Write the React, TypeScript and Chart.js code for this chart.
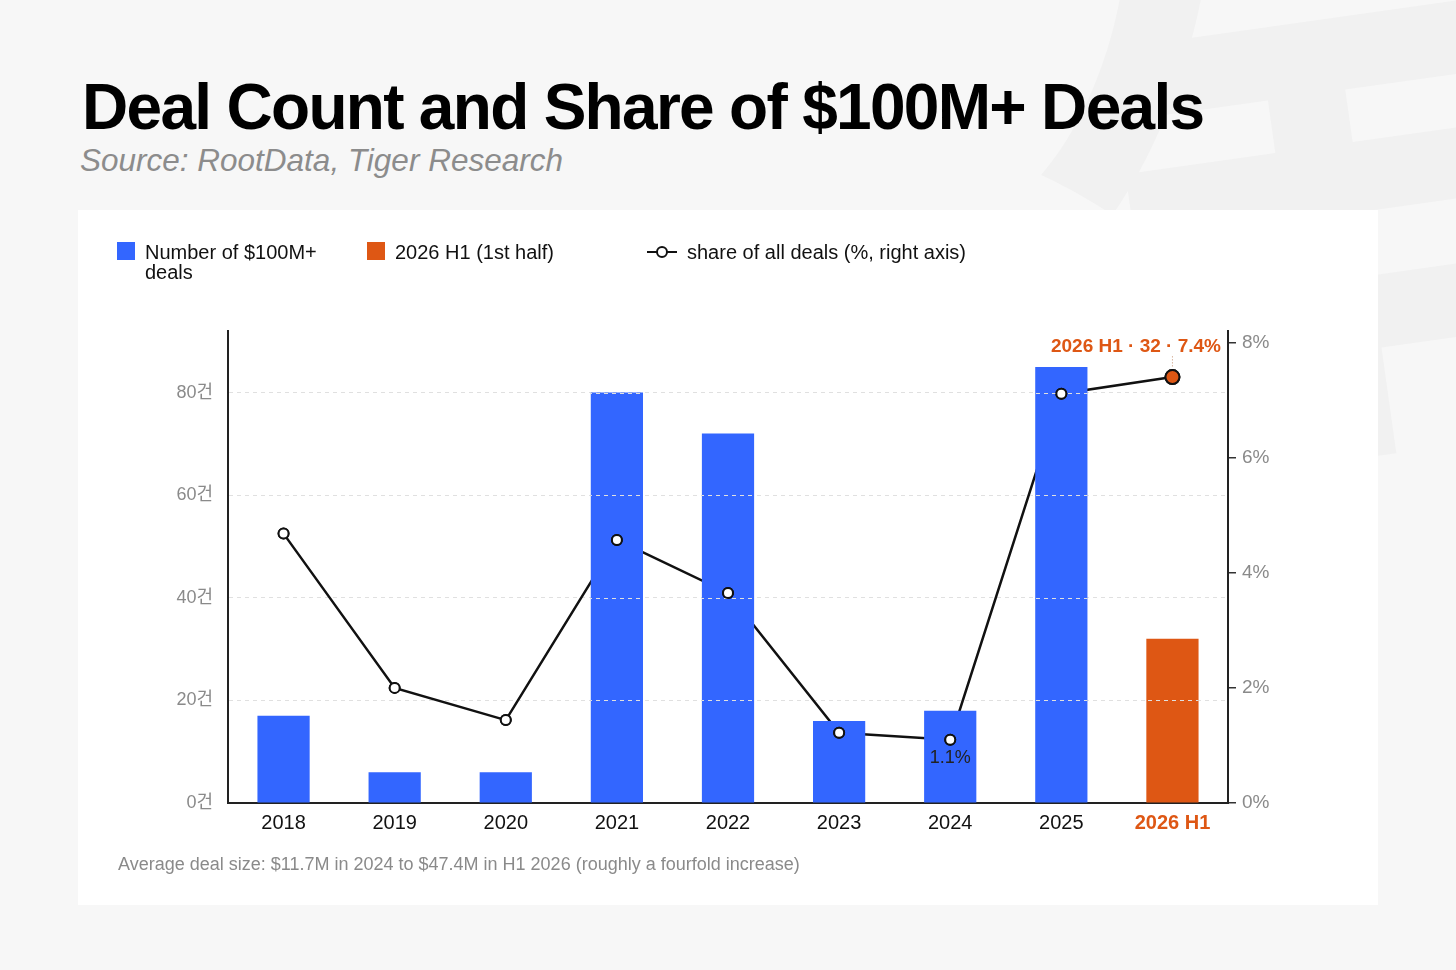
import React, { useEffect, useRef } from "react";
import { Chart, registerables } from "chart.js";

Chart.register(...registerables);

const categories = ["2018", "2019", "2020", "2021", "2022", "2023", "2024", "2025", "2026 H1"];
const dealCounts = [17, 6, 6, 80, 72, 16, 18, 85, 32];
const sharePct = [4.68, 2.0, 1.44, 4.57, 3.65, 1.22, 1.1, 7.11, 7.4];
const leftTicks = [0, 20, 40, 60, 80];
const rightTicks = [0, 2, 4, 6, 8];
const highlightIndex = 8;
const labelledIndex = 6;

const BLUE = "#3366ff";
const ORANGE = "#de5714";
const GRID = "#e0e0e0";
const FONT = '"Liberation Sans", Arial, Helvetica, "Noto Sans CJK KR", sans-serif';

const overlayPlugin = {
  id: "overlay",
  afterDatasetsDraw(chart: any) {
    // dashed grid lines visible on top of the bars
    const ctx = chart.ctx;
    const ys = chart.scales.y;
    const area = chart.chartArea;
    const meta = chart.getDatasetMeta(1);
    ctx.save();
    ctx.strokeStyle = GRID;
    ctx.lineWidth = 1;
    ctx.setLineDash([4, 4]);
    meta.data.forEach((bar: any) => {
      const p = bar.getProps(["x", "y", "base", "width"], true);
      ctx.save();
      ctx.beginPath();
      ctx.rect(p.x - p.width / 2, p.y, p.width, p.base - p.y);
      ctx.clip();
      ys.ticks.forEach((t: any) => {
        if (t.value === 0) return;
        const py = Math.round(ys.getPixelForValue(t.value)) + 0.5;
        ctx.beginPath();
        ctx.moveTo(area.left, py);
        ctx.lineTo(area.right, py);
        ctx.stroke();
      });
      ctx.restore();
    });
    ctx.restore();
  },
  afterDraw(chart: any) {
    const ctx = chart.ctx;
    const xs = chart.scales.x;
    const y1 = chart.scales.y1;
    const area = chart.chartArea;
    const px = xs.getPixelForValue(highlightIndex);
    const py = y1.getPixelForValue(sharePct[highlightIndex]);
    ctx.save();
    // dotted connector
    ctx.strokeStyle = "#d8b49e";
    ctx.lineWidth = 1;
    ctx.setLineDash([1.5, 1.5]);
    ctx.beginPath();
    ctx.moveTo(px, py - 21);
    ctx.lineTo(px, py - 9);
    ctx.stroke();
    ctx.setLineDash([]);
    // annotation label
    ctx.font = "bold 19px " + FONT;
    ctx.fillStyle = ORANGE;
    ctx.textAlign = "right";
    ctx.textBaseline = "middle";
    ctx.fillText(
      `${categories[highlightIndex]} · ${dealCounts[highlightIndex]} · ${sharePct[highlightIndex].toFixed(1)}%`,
      area.right - 7,
      py - 30
    );
    // 1.1% label
    const lx = xs.getPixelForValue(labelledIndex);
    const ly = y1.getPixelForValue(sharePct[labelledIndex]);
    ctx.font = "18px " + FONT;
    ctx.fillStyle = "#222";
    ctx.textAlign = "center";
    ctx.fillText(`${sharePct[labelledIndex].toFixed(1)}%`, lx, ly + 18);
    // redraw points on top of everything
    const meta = chart.getDatasetMeta(2);
    meta.data.forEach((el: any) => el.draw(ctx, area));
    ctx.restore();
  },
};

function ChartCanvas() {
  const ref = useRef<HTMLCanvasElement>(null);
  useEffect(() => {
    if (!ref.current) return;
    Chart.defaults.font.family = FONT;
    const chart = new Chart(ref.current, {
      type: "bar",
      data: {
        labels: categories,
        datasets: [
          {
            type: "line",
            label: "share line",
            data: sharePct,
            yAxisID: "y1",
            borderColor: "#111",
            borderWidth: 2.5,
            pointRadius: 0,
            tension: 0,
            order: 3,
            clip: false,
          } as any,
          {
            type: "bar",
            label: "Number of $100M+ deals",
            data: dealCounts,
            yAxisID: "y",
            backgroundColor: dealCounts.map((_, i) => (i === highlightIndex ? ORANGE : BLUE)),
            categoryPercentage: 1,
            barPercentage: 0.47,
            order: 2,
          },
          {
            type: "line",
            label: "share points",
            data: sharePct,
            yAxisID: "y1",
            showLine: false,
            pointRadius: sharePct.map((_, i) => (i === highlightIndex ? 7 : 5)),
            pointBackgroundColor: sharePct.map((_, i) => (i === highlightIndex ? ORANGE : "#ffffff")),
            pointBorderColor: "#111",
            pointBorderWidth: 2,
            order: 1,
            clip: false,
          } as any,
        ],
      },
      options: {
        animation: false,
        responsive: false,
        maintainAspectRatio: false,
        layout: { padding: { top: 121, left: 0, right: 0, bottom: 0 } },
        plugins: { legend: { display: false }, tooltip: { enabled: false } },
        scales: {
          x: {
            grid: { display: false },
            border: { display: true, color: "#222", width: 2 },
            ticks: {
              padding: 0,
              color: (c: any) => (c.index === highlightIndex ? ORANGE : "#111"),
              font: (c: any) => ({
                size: 20,
                family: FONT,
                weight: c.index === highlightIndex ? "bold" : "normal",
              }),
            },
            afterFit: (s: any) => {
              s.height = 102;
            },
          },
          y: {
            position: "left",
            min: 0,
            max: 92,
            afterBuildTicks: (s: any) => {
              s.ticks = leftTicks.map((v) => ({ value: v }));
            },
            grid: {
              drawTicks: false,
              color: (c: any) => (c.tick && c.tick.value === 0 ? "rgba(0,0,0,0)" : GRID),
              lineWidth: 1,
            },
            border: { display: true, color: "#222", width: 2, dash: [4, 4] },
            ticks: {
              color: "#8a8a8a",
              font: { size: 18, family: FONT },
              padding: 15,
              callback: (v: any) => `${v}건`,
            },
            afterFit: (s: any) => {
              s.width = 150;
            },
          } as any,
          y1: {
            position: "right",
            min: 0,
            max: 8.2,
            afterBuildTicks: (s: any) => {
              s.ticks = rightTicks.map((v) => ({ value: v }));
            },
            grid: {
              drawOnChartArea: false,
              drawTicks: true,
              tickLength: 8,
              color: "#333",
              lineWidth: 1.5,
            },
            border: { display: true, color: "#222", width: 2 },
            ticks: {
              color: "#8a8a8a",
              font: { size: 19, family: FONT },
              padding: 6,
              callback: (v: any) => `${v}%`,
            },
            afterFit: (s: any) => {
              s.width = 150;
            },
          },
        },
      },
      plugins: [overlayPlugin],
    });
    return () => chart.destroy();
  }, []);
  return <canvas ref={ref} width={1300} height={695} style={{ position: "absolute", left: 0, top: 0, width: 1300, height: 695 }} />;
}

export default function App() {
  const legendText: React.CSSProperties = {
    position: "absolute",
    top: 32,
    fontSize: 20,
    lineHeight: "20px",
    color: "#111",
    fontFamily: FONT,
  };
  return (
    <div
      style={{
        position: "fixed",
        left: 0,
        top: 0,
        width: 1456,
        height: 970,
        background: "#f7f7f7",
        overflow: "hidden",
        fontFamily: FONT,
      }}
    >
      <div
        style={{
          position: "absolute",
          left: 1030,
          top: -70,
          fontSize: 520,
          lineHeight: "520px",
          color: "#f1f1f1",
          fontFamily: '"Noto Sans CJK SC", sans-serif',
          fontWeight: 900,
          transform: "rotate(-8deg)",
        }}
      >
        年
      </div>
      <div
        style={{
          position: "absolute",
          left: 82,
          top: 75,
          fontSize: 64,
          lineHeight: "64px",
          fontWeight: "bold",
          letterSpacing: "-1.7px",
          color: "#000",
          whiteSpace: "nowrap",
        }}
      >
        Deal Count and Share of $100M+ Deals
      </div>
      <div
        style={{
          position: "absolute",
          left: 80,
          top: 145,
          fontSize: 31.5,
          lineHeight: "31.5px",
          fontStyle: "italic",
          color: "#8c8c8c",
          whiteSpace: "nowrap",
        }}
      >
        Source: RootData, Tiger Research
      </div>
      <div
        style={{
          position: "absolute",
          left: 78,
          top: 210,
          width: 1300,
          height: 695,
          background: "#ffffff",
        }}
      >
        <ChartCanvas />
        <div style={{ position: "absolute", left: 39, top: 32, width: 18, height: 18, background: BLUE }} />
        <div style={{ ...legendText, left: 67, width: 185 }}>Number of $100M+ deals</div>
        <div style={{ position: "absolute", left: 289, top: 32, width: 18, height: 18, background: ORANGE }} />
        <div style={{ ...legendText, left: 317, whiteSpace: "nowrap" }}>2026 H1 (1st half)</div>
        <div style={{ position: "absolute", left: 569, top: 41, width: 30, height: 2, background: "#111" }} />
        <div
          style={{
            position: "absolute",
            left: 578,
            top: 36,
            width: 8,
            height: 8,
            borderRadius: "50%",
            background: "#fff",
            border: "2px solid #111",
          }}
        />
        <div style={{ ...legendText, left: 609, whiteSpace: "nowrap" }}>share of all deals (%, right axis)</div>
        <div
          style={{
            position: "absolute",
            left: 40,
            top: 644,
            fontSize: 18,
            lineHeight: "20px",
            color: "#8a8a8a",
            whiteSpace: "nowrap",
          }}
        >
          Average deal size: $11.7M in 2024 to $47.4M in H1 2026 (roughly a fourfold increase)
        </div>
      </div>
    </div>
  );
}
